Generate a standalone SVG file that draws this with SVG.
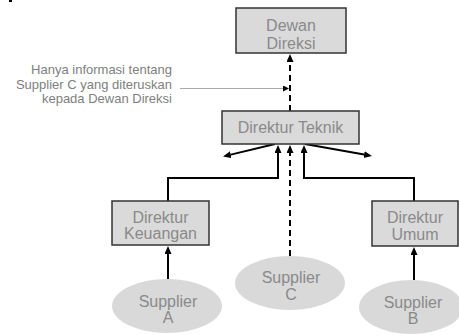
<svg xmlns="http://www.w3.org/2000/svg" width="459" height="335" viewBox="0 0 459 335">
<style>
.box{fill:#dadada;stroke:#333;stroke-width:1.5}
.ell{fill:#d9d9d9;stroke:none}
.t{font-family:"Liberation Sans",Arial,sans-serif;font-size:16px;fill:#8a8a8a;text-anchor:middle}
.note{font-family:"Liberation Sans",Arial,sans-serif;font-size:13px;fill:#808080;text-anchor:end}
.ln{fill:none;stroke:#000;stroke-width:2}
.dash{fill:none;stroke:#000;stroke-width:2;stroke-dasharray:6,4}
</style>
<defs>
<marker id="ah" markerUnits="userSpaceOnUse" markerWidth="8" markerHeight="8" refX="0" refY="3.5" orient="auto"><path d="M0,0 L8,3.5 L0,7 z" fill="#000"/></marker>
<marker id="ahs" markerUnits="userSpaceOnUse" markerWidth="7" markerHeight="7" refX="0" refY="3" orient="auto"><path d="M0,0 L6,3 L0,6 z" fill="#000"/></marker>
</defs>
<rect x="9" y="0" width="3" height="2" fill="#000"/>
<g id="connectors">
<line class="dash" x1="290" y1="111" x2="290" y2="62" marker-end="url(#ah)"/>
<line x1="180" y1="88.5" x2="283" y2="88.5" stroke="#aaa" stroke-width="1" marker-end="url(#ahs)"/>
<line class="ln" x1="275" y1="144" x2="230.8" y2="154.6" marker-end="url(#ah)"/>
<line class="ln" x1="305" y1="144" x2="364.1" y2="154.6" marker-end="url(#ah)"/>
<polyline class="ln" points="168,201 168,178 278,178 278,153" marker-end="url(#ah)"/>
<polyline class="ln" points="414,201 414,178 304,178 304,153" marker-end="url(#ah)"/>
<line class="dash" x1="290" y1="256" x2="290" y2="153" marker-end="url(#ah)"/>
<line class="ln" x1="168" y1="279" x2="168" y2="254" marker-end="url(#ah)"/>
<line class="ln" x1="414" y1="280" x2="414" y2="255" marker-end="url(#ah)"/>
</g>
<g id="note">
<text class="note" x="172" y="74">Hanya informasi tentang</text>
<text class="note" x="172" y="88.5">Supplier C yang diteruskan</text>
<text class="note" x="172" y="103">kepada Dewan Direksi</text>
</g>
<g id="dewan-direksi">
<rect class="box" x="236" y="8" width="110" height="45"/>
<text class="t" x="291" y="30.5">Dewan</text>
<text class="t" x="291" y="48.5">Direksi</text>
</g>
<g id="direktur-teknik">
<rect class="box" x="222" y="111" width="137" height="33"/>
<text class="t" x="290.5" y="132.5">Direktur Teknik</text>
</g>
<g id="direktur-keuangan">
<rect class="box" x="112" y="201" width="97" height="44"/>
<text class="t" x="160.5" y="222.5">Direktur</text>
<text class="t" x="160.5" y="239">Keuangan</text>
</g>
<g id="direktur-umum">
<rect class="box" x="372" y="201" width="86" height="45"/>
<text class="t" x="415" y="222.5">Direktur</text>
<text class="t" x="415" y="239.5">Umum</text>
</g>
<g id="supplier-a">
<ellipse class="ell" cx="167" cy="306" rx="55" ry="27"/>
<text class="t" x="168" y="306.5">Supplier</text>
<text class="t" x="168" y="323">A</text>
</g>
<g id="supplier-c">
<ellipse class="ell" cx="290" cy="283" rx="55" ry="27"/>
<text class="t" x="291" y="283">Supplier</text>
<text class="t" x="291" y="300">C</text>
</g>
<g id="supplier-b">
<ellipse class="ell" cx="411" cy="307" rx="52" ry="27"/>
<text class="t" x="413" y="307.5">Supplier</text>
<text class="t" x="413" y="324">B</text>
</g>
</svg>
